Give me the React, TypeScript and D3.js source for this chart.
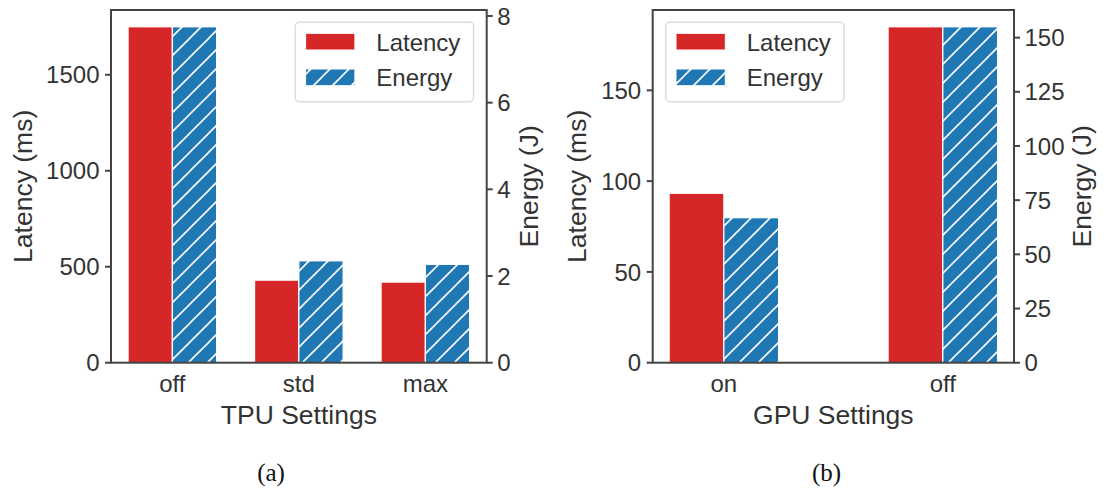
import React from "react";
import * as d3 from "d3";

// ---- Data ----
const tpuCategories = ["off", "std", "max"];
const tpuLatency = [1750, 430, 420];
const tpuEnergy = [7.75, 2.35, 2.27];
const tpuLatencyTicks = [0, 500, 1000, 1500];
const tpuEnergyTicks = [0, 2, 4, 6, 8];

const gpuCategories = ["on", "off"];
const gpuLatency = [93.3, 185];
const gpuEnergy = [66.9, 155];
const gpuLatencyTicks = [0, 50, 100, 150];
const gpuEnergyTicks = [0, 25, 50, 75, 100, 125, 150];

const seriesNames = ["Latency", "Energy"];

// ---- Style ----
const RED = "#d62728";
const BLUE = "#1f77b4";
const AXIS = "#444444";
const TEXT = "#333333";
const FONT = "'Liberation Sans', Arial, sans-serif";
const TOP = 10;
const BOTTOM = 362.7;

type PanelProps = {
  id: string;
  left: number;
  right: number;
  barWidth: number;
  categories: string[];
  latency: number[];
  energy: number[];
  latencyTicks: number[];
  energyTicks: number[];
  xLabel: string;
  caption: string;
  captionX: number;
  legendLeft: number;
  leftLabelX: number;
  rightLabelX: number;
};

function Panel(p: PanelProps) {
  const n = p.categories.length;
  const w = p.barWidth;
  const span = n - 1 + 2 * w;
  const x = d3
    .scaleLinear()
    .domain([-w - 0.05 * span, n - 1 + w + 0.05 * span])
    .range([p.left, p.right]);
  const yL = d3
    .scaleLinear()
    .domain([0, (d3.max(p.latency) as number) * 1.05])
    .range([BOTTOM, TOP]);
  const yE = d3
    .scaleLinear()
    .domain([0, (d3.max(p.energy) as number) * 1.05])
    .range([BOTTOM, TOP]);
  const midX = (p.left + p.right) / 2;
  const midY = (TOP + BOTTOM) / 2;
  const lg = p.legendLeft;
  const hatch = `url(#hatch-${p.id})`;

  return (
    <g>
      <defs>
        <pattern
          id={`hatch-${p.id}`}
          patternUnits="userSpaceOnUse"
          width={19}
          height={19}
        >
          <rect width={19} height={19} fill={BLUE} />
          <path
            d="M-1,1 L1,-1 M0,19 L19,0 M18,20 L20,18"
            stroke="white"
            strokeWidth={1.6}
          />
        </pattern>
      </defs>
      {/* bars */}
      {p.categories.map((c, i) => (
        <g key={c}>
          <rect
            x={x(i - w)}
            y={yL(p.latency[i])}
            width={x(i) - x(i - w)}
            height={BOTTOM - yL(p.latency[i])}
            fill={RED}
            stroke="white"
            strokeWidth={1.2}
          />
          <rect
            x={x(i)}
            y={yE(p.energy[i])}
            width={x(i + w) - x(i)}
            height={BOTTOM - yE(p.energy[i])}
            fill={hatch}
            stroke="white"
            strokeWidth={1.2}
          />
        </g>
      ))}
      {/* frame */}
      <rect
        x={p.left}
        y={TOP}
        width={p.right - p.left}
        height={BOTTOM - TOP}
        fill="none"
        stroke={AXIS}
        strokeWidth={2}
      />
      {/* left ticks */}
      {p.latencyTicks.map((t) => (
        <g key={"l" + t}>
          <line
            x1={p.left - 6}
            x2={p.left}
            y1={yL(t)}
            y2={yL(t)}
            stroke={AXIS}
            strokeWidth={2}
          />
          <text
            x={p.left - 11.5}
            y={yL(t)}
            dy="0.36em"
            textAnchor="end"
            fontSize={24}
            fill={TEXT}
            fontFamily={FONT}
          >
            {t}
          </text>
        </g>
      ))}
      {/* right ticks */}
      {p.energyTicks.map((t) => (
        <g key={"r" + t}>
          <line
            x1={p.right}
            x2={p.right + 6}
            y1={yE(t)}
            y2={yE(t)}
            stroke={AXIS}
            strokeWidth={2}
          />
          <text
            x={p.right + 10.5}
            y={yE(t)}
            dy="0.36em"
            textAnchor="start"
            fontSize={24}
            fill={TEXT}
            fontFamily={FONT}
          >
            {t}
          </text>
        </g>
      ))}
      {/* x tick labels */}
      {p.categories.map((c, i) => (
        <text
          key={"x" + c}
          x={x(i)}
          y={392}
          textAnchor="middle"
          fontSize={24}
          fill={TEXT}
          fontFamily={FONT}
        >
          {c}
        </text>
      ))}
      {/* axis labels */}
      <text
        x={midX}
        y={423.5}
        textAnchor="middle"
        fontSize={26.5}
        fill={TEXT}
        fontFamily={FONT}
      >
        {p.xLabel}
      </text>
      <text
        transform={`translate(${p.leftLabelX},${midY}) rotate(-90)`}
        textAnchor="middle"
        fontSize={26.5}
        fill={TEXT}
        fontFamily={FONT}
      >
        Latency (ms)
      </text>
      <text
        transform={`translate(${p.rightLabelX},${midY}) rotate(-90)`}
        textAnchor="middle"
        fontSize={26.5}
        fill={TEXT}
        fontFamily={FONT}
      >
        Energy (J)
      </text>
      {/* caption */}
      <text
        x={p.captionX}
        y={480.5}
        textAnchor="middle"
        fontSize={25}
        fill="#111"
        fontFamily="'Liberation Serif', 'Times New Roman', serif"
      >
        {p.caption}
      </text>
      {/* legend */}
      <g>
        <rect
          x={lg}
          y={22.3}
          width={178.3}
          height={79.4}
          rx={4}
          fill="white"
          fillOpacity={0.8}
          stroke="#dddddd"
          strokeWidth={1.5}
        />
        <rect x={lg + 10.3} y={33.3} width={49.3} height={16.7} fill={RED} stroke="white" strokeWidth={1} />
        <rect x={lg + 10.3} y={69} width={49.3} height={16.7} fill={hatch} stroke="white" strokeWidth={1} />
        <text x={lg + 81} y={50.7} fontSize={24} fill={TEXT} fontFamily={FONT}>
          {seriesNames[0]}
        </text>
        <text x={lg + 81} y={86} fontSize={24} fill={TEXT} fontFamily={FONT}>
          {seriesNames[1]}
        </text>
      </g>
    </g>
  );
}

export default function App() {
  return (
    <svg
      width={1108}
      height={491}
      style={{ position: "absolute", left: 0, top: 0, background: "white", display: "block" }}
    >
      <rect width={1108} height={491} fill="white" />
      <Panel
        id="a"
        left={111}
        right={486.7}
        barWidth={0.35}
        categories={tpuCategories}
        latency={tpuLatency}
        energy={tpuEnergy}
        latencyTicks={tpuLatencyTicks}
        energyTicks={tpuEnergyTicks}
        xLabel="TPU Settings"
        caption="(a)"
        captionX={271}
        legendLeft={295.3}
        leftLabelX={32}
        rightLabelX={538}
      />
      <Panel
        id="b"
        left={652.7}
        right={1014}
        barWidth={0.25}
        categories={gpuCategories}
        latency={gpuLatency}
        energy={gpuEnergy}
        latencyTicks={gpuLatencyTicks}
        energyTicks={gpuEnergyTicks}
        xLabel="GPU Settings"
        caption="(b)"
        captionX={826.5}
        legendLeft={665.7}
        leftLabelX={586}
        rightLabelX={1091}
      />
    </svg>
  );
}
